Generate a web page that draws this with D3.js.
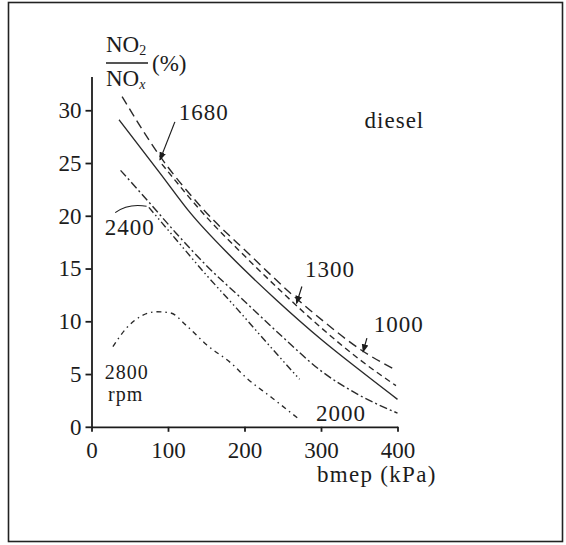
<!DOCTYPE html>
<html>
<head>
<meta charset="utf-8">
<script src="https://cdn.jsdelivr.net/npm/d3@7"></script>
<style>
  body { margin: 0; background: #fff; }
  text { font-family: "Liberation Serif", "DejaVu Serif", serif; fill: #1c1c1c; }
</style>
</head>
<body>
<script>
// bmep (kPa) vs NO2/NOx (%), one array per engine speed
var rpm1000 = [[40, 31.3], [88, 25.8], [145, 20.7], [210, 16.1], [258, 12.8], [305, 9.9], [352, 7.3], [397, 5.4]]
var rpm1300 = [[92, 24.9], [150, 19.9], [200, 16.2], [250, 12.7], [300, 9.4], [350, 6.4], [398, 3.9]]
var rpm1680 = [[36, 29.1], [90, 24.0], [130, 20.2], [180, 16.3], [242, 12.0], [300, 8.3], [350, 5.4], [400, 2.6]]
var rpm2000 = [[38, 24.3], [75, 21.3], [110, 18.4], [150, 15.3], [200, 11.9], [250, 8.5], [300, 5.3], [350, 3.0], [400, 1.3]]
var rpm2400 = [[75, 20.8], [110, 17.8], [150, 14.4], [190, 11.2], [230, 7.9], [272, 4.5]]
var rpm2800 = [[28, 7.6], [45, 9.3], [65, 10.5], [85, 10.9], [103, 10.8], [124, 9.6], [150, 7.8], [183, 6.0], [203, 4.6], [235, 2.8], [270, 0.8]]

var xTicks = [0, 100, 200, 300, 400]
var yTicks = [0, 5, 10, 15, 20, 25, 30]

var curves = [
  {name: "1000", pts: rpm1000, dash: "9,5"},
  {name: "1300", pts: rpm1300, dash: "6,4"},
  {name: "1680", pts: rpm1680, dash: null},
  {name: "2000", pts: rpm2000, dash: "8,3,2,3"},
  {name: "2400", pts: rpm2400, dash: "7,3,1.5,3,1.5,3"},
  {name: "2800", pts: rpm2800, dash: "5,4,1.5,4"}
]

var W = 566, H = 545

var svg = d3.select("body").append("svg")
    .attr("width", W).attr("height", H)

// frame
svg.append("rect")
  .attr("x", 8.5).attr("y", 2.5).attr("width", 554).attr("height", 539)
  .attr("fill", "none").attr("stroke", "#222").attr("stroke-width", 1.6)

var x = d3.scaleLinear().domain([0, 400]).range([91.5, 397.5])
var y = d3.scaleLinear().domain([0, 33.2]).range([426.8, 76.5])

var ax = svg.append("g").attr("transform", "translate(0," + y(0) + ")")
  .call(d3.axisBottom(x).tickValues(xTicks).tickSize(5).tickSizeOuter(0).tickPadding(10))
var ay = svg.append("g").attr("transform", "translate(" + x(0) + ",0)")
  .call(d3.axisLeft(y).tickValues(yTicks).tickSize(6).tickSizeOuter(0).tickPadding(4))

svg.selectAll(".tick text").attr("font-size", 23).attr("fill", "#1c1c1c")
  .style("font-family", '"Liberation Serif", serif')
svg.selectAll(".domain, .tick line").attr("stroke", "#1c1c1c").attr("stroke-width", 1.8)

// curves
var line = d3.line()
  .x(function(d){ return x(d[0]) })
  .y(function(d){ return y(d[1]) })
  .curve(d3.curveMonotoneX)

svg.selectAll(".curve").data(curves).enter()
  .append("path")
    .attr("class", "curve")
    .attr("d", function(d){ return line(d.pts) })
    .attr("fill", "none")
    .attr("stroke", "#2a2a2a")
    .attr("stroke-width", 1.4)
    .attr("stroke-dasharray", function(d){ return d.dash })

// arrowheads for leaders
svg.append("defs").append("marker")
  .attr("id", "tip").attr("viewBox", "0 0 10 10")
  .attr("refX", 9).attr("refY", 5)
  .attr("markerWidth", 7).attr("markerHeight", 7)
  .attr("orient", "auto-start-reverse")
  .append("path").attr("d", "M0,1 L10,5 L0,9 z").attr("fill", "#1c1c1c")

function leader(x1, y1, x2, y2) {
  svg.append("line")
    .attr("x1", x(x1)).attr("y1", y(y1)).attr("x2", x(x2)).attr("y2", y(y2))
    .attr("stroke", "#1c1c1c").attr("stroke-width", 1.2)
    .attr("marker-end", "url(#tip)")
}
leader(109, 28.9, 89.5, 25.3)
leader(275, 13.3, 268, 11.7)
leader(360, 8.4, 355, 7.1)

// 2400 leader arc
svg.append("path")
  .attr("d", "M" + x(31) + "," + y(20.3) + " Q" + x(48) + "," + y(21.2) + " " + x(72) + "," + y(20.9))
  .attr("fill", "none").attr("stroke", "#1c1c1c").attr("stroke-width", 1.2)

function label(t, xv, yv, fs) {
  return svg.append("text").attr("x", x(xv)).attr("y", y(yv))
    .attr("font-size", fs || 23).attr("letter-spacing", 1).text(t)
}
label("1680", 114, 29.1)
label("1300", 279, 14.2)
label("1000", 369, 9.0)
label("2400", 17.3, 18.2)
label("2000", 293.5, 0.55)
label("diesel", 357, 28.3)
label("2800", 17.3, 4.5, 20)
label("rpm", 21.6, 2.45, 20)

// x axis title
svg.append("text").attr("x", 317).attr("y", 482)
  .attr("font-size", 23).attr("letter-spacing", 1.3).text("bmep (kPa)")

// y axis title NO2 / NOx (%)
var t1 = svg.append("text").attr("x", 106).attr("y", 52).attr("font-size", 23)
t1.append("tspan").text("NO")
t1.append("tspan").attr("font-size", 14).attr("dy", 3).text("2")
svg.append("line").attr("x1", 106).attr("x2", 148).attr("y1", 63).attr("y2", 63)
  .attr("stroke", "#1c1c1c").attr("stroke-width", 1.4)
var t2 = svg.append("text").attr("x", 106).attr("y", 86).attr("font-size", 23)
t2.append("tspan").text("NO")
t2.append("tspan").attr("font-size", 14).attr("dy", 3).attr("font-style", "italic").text("x")
svg.append("text").attr("x", 152).attr("y", 71).attr("font-size", 23).text("(%)")
</script>
</body>
</html>
